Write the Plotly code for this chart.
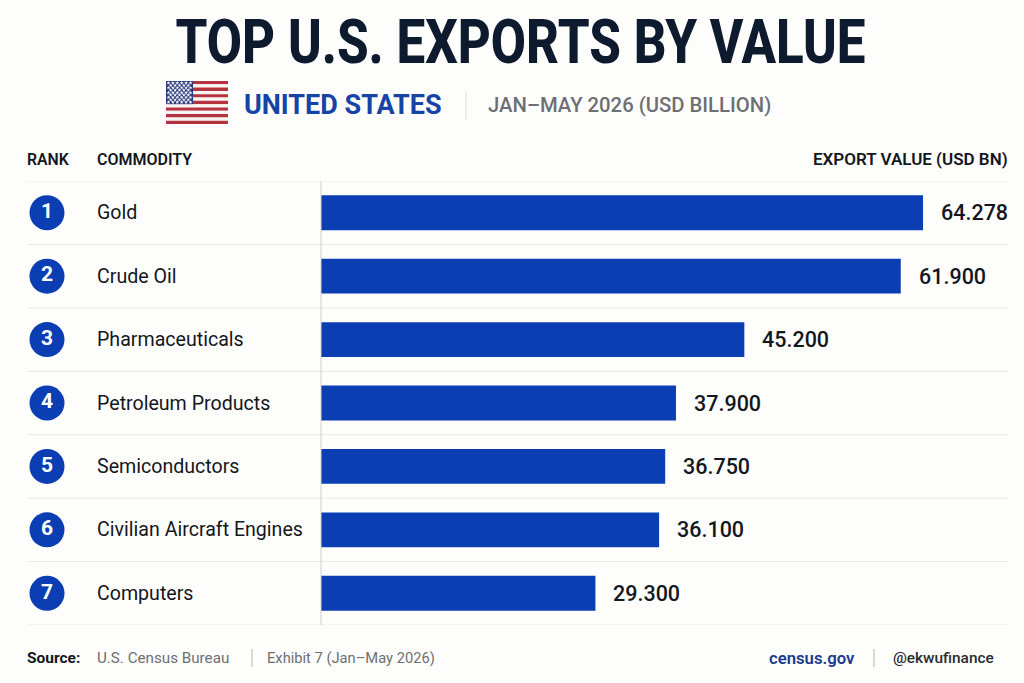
import plotly.graph_objects as go

# Top US exports, Jan-May 2026
ranks = [1, 2, 3, 4, 5, 6, 7]
commodities = ['Gold', 'Crude Oil', 'Pharmaceuticals', 'Petroleum Products',
               'Semiconductors', 'Civilian Aircraft Engines', 'Computers']
values = [64.278, 61.900, 45.200, 37.900, 36.750, 36.100, 29.300]

W, H = 1024, 683
FONT = 'Roboto'
BLUE = '#0c3eb3'
INK = '#14171c'
GREY = '#6d6f73'
LINE = '#e9e9e9'
BG = '#fdfdfc'
TITLE = 'TOP U.S. EXPORTS BY VALUE'


def note(x, y, text, size, color=INK, anchor='left', weight=400, xref='x2', yref='y2', xshift=0):
    return dict(x=x, y=y, text=text, xref=xref, yref=yref, xanchor=anchor, yanchor='middle',
                showarrow=False, xshift=xshift, borderpad=0, borderwidth=0,
                font=dict(family=FONT, size=size, color=color, weight=weight))


def rule(x0, y0, x1, y1, color=LINE, xref='x2', yref='y2'):
    return dict(type='line', x0=x0, y0=y0, x1=x1, y1=y1, xref=xref, yref=yref,
                line=dict(color=color, width=1), layer='below')


fig = go.Figure()

fig.add_trace(go.Bar(x=values, y=commodities, orientation='h', width=0.55,
                     marker=dict(color=BLUE, line_width=0), hoverinfo='x+y'))

fig.add_trace(go.Scatter(x=[47] * len(ranks), y=commodities, xaxis='x2', yaxis='y',
                         mode='markers+text', text=[str(r) for r in ranks], textposition='middle center',
                         textfont=dict(family=FONT, size=21, color='white', weight=700),
                         marker=dict(size=35, color=BLUE), hoverinfo='skip', cliponaxis=False))

# flag
flag_x0, flag_x1, flag_y0, flag_y1 = 166, 228, 81, 124
stripe = (flag_y1 - flag_y0) / 13
shapes = []
for i in range(13):
    shapes.append(dict(type='rect', x0=flag_x0, x1=flag_x1, y0=flag_y0 + i * stripe, y1=flag_y0 + (i + 1) * stripe,
                       xref='x2', yref='y2', line_width=0, layer='below',
                       fillcolor='#b4333f' if i % 2 == 0 else '#f8f4f2'))
shapes.append(dict(type='rect', x0=flag_x0, x1=193, y0=flag_y0, y1=flag_y0 + 7 * stripe,
                   xref='x2', yref='y2', line_width=0, layer='below', fillcolor='#2b3a7c'))

star_x, star_y = [], []
for row in range(9):
    for col in range(6 if row % 2 == 0 else 5):
        star_x.append(flag_x0 + 2.5 + col * 4.4 + (0 if row % 2 == 0 else 2.2))
        star_y.append(flag_y0 + 2 + row * 2.4)
fig.add_trace(go.Scatter(x=star_x, y=star_y, xaxis='x2', yaxis='y2', mode='markers',
                         marker=dict(symbol='star', size=3, color='white', line_width=0), hoverinfo='skip'))

# row separators and the vertical axis line
for i in range(len(commodities) + 1):
    shapes.append(rule(27, i - 0.5, 1008, i - 0.5, xref='x2', yref='y'))
shapes.append(rule(321, 181, 321, 625, color='#cfcfcf'))
shapes.append(rule(466, 92, 466, 120, color='#dddddd'))
shapes.append(rule(252, 649, 252, 667, color='#b5b5b5'))
shapes.append(rule(874, 649, 874, 667, color='#b5b5b5'))

annotations = [
    note(520, 41, TITLE, 62, color='#0e1a2e', anchor='center', weight=800),
    note(244, 105, 'UNITED STATES', 27, color='#1543a6', weight=700),
    note(488, 105, 'JAN–MAY 2026 (USD BILLION)', 20.3, color=GREY, weight=500),
    note(27, 159, 'RANK', 15.8, weight=600),
    note(97, 159, 'COMMODITY', 16, weight=600),
    note(1008, 159, 'EXPORT VALUE (USD BN)', 17, anchor='right', weight=600),
    note(27, 658, 'Source:', 15.5, weight=700),
    note(97, 658, 'U.S. Census Bureau', 15.2, color=GREY),
    note(267, 658, 'Exhibit 7 (Jan–May 2026)', 14.7, color=GREY),
    note(855, 658, 'census.gov', 16.7, color='#1a3a8f', anchor='right', weight=600),
    note(994, 658, '@ekwufinance', 15.4, color='#2a2c30', anchor='right', weight=500),
]
for name, val in zip(commodities, values):
    annotations.append(note(97, name, name, 19.6, yref='y'))
    annotations.append(note(val, name, f'{val:.3f}', 21.5, xref='x', yref='y', weight=500, xshift=18))

fig.update_layout(
    width=W, height=H, margin=dict(l=0, r=0, t=0, b=0, pad=0),
    paper_bgcolor=BG, plot_bgcolor='rgba(0,0,0,0)', showlegend=False,
    xaxis=dict(domain=[321 / W, 1], range=[0, (W - 321) / 9.366], visible=False, fixedrange=True),
    yaxis=dict(domain=[1 - 625 / H, 1 - 181 / H], range=[6.5, -0.5], type='category',
               categoryorder='array', categoryarray=commodities, visible=False, fixedrange=True),
    xaxis2=dict(domain=[0, 1], range=[0, W], anchor='y2', visible=False, fixedrange=True),
    yaxis2=dict(domain=[0, 1], range=[H, 0], anchor='x2', visible=False, fixedrange=True),
    shapes=shapes, annotations=annotations,
)

# no condensed font is installed, so squeeze the title to its width
squeeze = """
document.body.style.margin = '0';
document.querySelectorAll('text.annotation-text').forEach(function (t) {
  if (t.textContent === '%s') {
    t.setAttribute('textLength', '690');
    t.setAttribute('lengthAdjust', 'spacingAndGlyphs');
  }
});
""" % TITLE

fig.write_html("out.html", post_script=squeeze, config=dict(displayModeBar=False))
